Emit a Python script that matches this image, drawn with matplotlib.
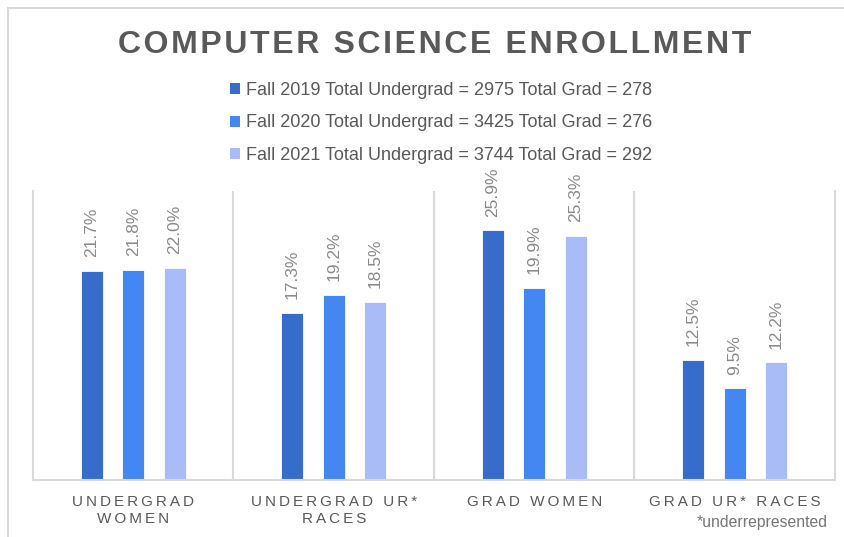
import matplotlib

matplotlib.use("Agg")
import matplotlib.pyplot as plt
import numpy as np
from matplotlib.patches import Patch, Rectangle

plt.rcParams["font.family"] = ["Liberation Sans", "DejaVu Sans"]

HAIR = "\u200a"
THIN = "\u2009"

categories = ["UNDERGRAD\nWOMEN", "UNDERGRAD UR*\nRACES", "GRAD WOMEN", "GRAD UR* RACES"]
series_names = [
    "Fall 2019 Total Undergrad = 2975 Total Grad = 278",
    "Fall 2020 Total Undergrad = 3425 Total Grad = 276",
    "Fall 2021 Total Undergrad = 3744 Total Grad = 292",
]
fall_2019 = [21.7, 17.3, 25.9, 12.5]
fall_2020 = [21.8, 19.2, 19.9, 9.5]
fall_2021 = [22.0, 18.5, 25.3, 12.2]

colors = ["#366dca", "#4487f2", "#a9bcf7"]
GRID = "#d9d9d9"
DARK = "#595959"


def spaced(s, sep):
    # fake letter-spacing: put a narrow space between every character
    return "\n".join(sep.join(line) for line in s.split("\n"))


fig = plt.figure(figsize=(8.45, 5.37), dpi=100)
ax = fig.add_axes([33 / 845, 1 - 480 / 537, 802 / 845, 289 / 537])

# outer chart border (only left/top visible in the crop)
fig.patches.append(
    Rectangle((8 / 845, -0.05), 1.2, 1 - 8 / 537 + 0.05, transform=fig.transFigure,
              fill=False, edgecolor=GRID, linewidth=1.5)
)

x = np.arange(len(categories))
width = 0.11
step = 0.207
for i, (vals, c, name) in enumerate(zip([fall_2019, fall_2020, fall_2021], colors, series_names)):
    pos = x + (i - 1) * step
    bars = ax.bar(pos, vals, width, color=c, edgecolor="white", linewidth=0.6, label=name)
    for b, v in zip(bars, vals):
        ax.annotate(f"{v:.1f}%", (b.get_x() + b.get_width() / 2, v), xytext=(0, 10),
                    textcoords="offset points", rotation=90, ha="center", va="bottom",
                    fontsize=12.5, color="#8a8a8a", annotation_clip=False)

ax.set_xlim(-0.5, len(categories) - 0.5)
ax.set_ylim(0, 30)
for sep in np.arange(0.5, len(categories) - 0.5):
    ax.axvline(sep, color=GRID, linewidth=1.5, zorder=0)
for side in ["left", "right", "bottom"]:
    ax.spines[side].set_color(GRID)
    ax.spines[side].set_linewidth(1.5)
ax.spines["top"].set_visible(False)
ax.set_yticks([])
ax.set_xticks(x)
ax.set_xticklabels([spaced(c, THIN) for c in categories], fontsize=11, color=DARK,
                   linespacing=1.25)
ax.tick_params(axis="x", length=0, pad=11)

fig.text(0.514, 1 - 53 / 537, spaced("COMPUTER SCIENCE ENROLLMENT", HAIR), ha="center",
         va="baseline", fontsize=23, fontweight="bold", color=DARK)

handles = [Patch(facecolor=c, edgecolor="none") for c in colors]
fig.legend(handles, series_names, loc="center", bbox_to_anchor=(0.522, 1 - 123 / 537),
           ncol=1, frameon=False, fontsize=13, labelcolor=DARK, handlelength=0.55,
           handleheight=0.55, handletextpad=0.3, labelspacing=0.87)

fig.text(828 / 845, 1 - 523 / 537, "*underrepresented", ha="right", va="center",
         fontsize=11.3, color="#757575")

fig.savefig("out.png", dpi=100)
